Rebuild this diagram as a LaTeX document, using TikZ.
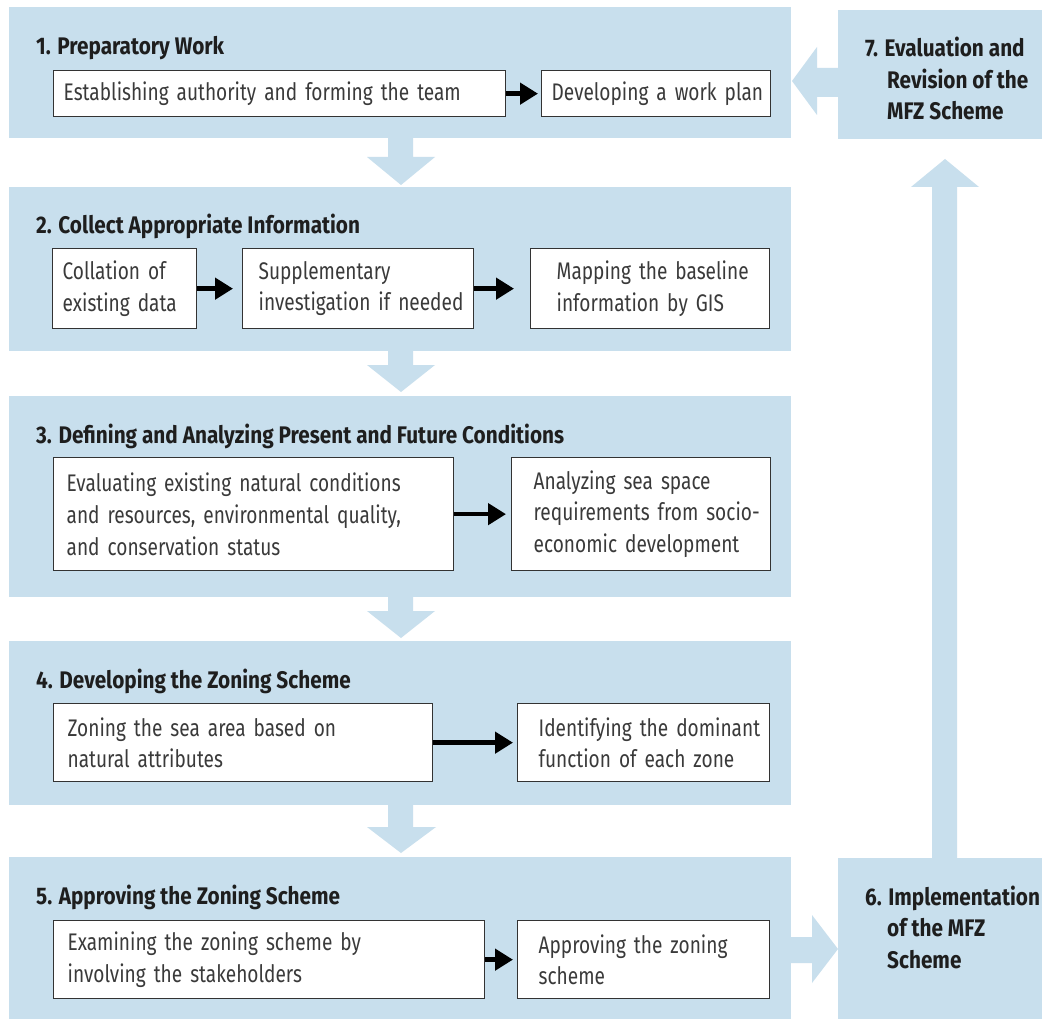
\documentclass[tikz,border=0pt]{standalone}
\usepackage{fontspec}
\setmainfont{Fira Sans}[FakeStretch=0.795, BoldFeatures={FakeStretch=0.865}]
\usetikzlibrary{arrows.meta}
\definecolor{pblue}{HTML}{C8DFED}
\definecolor{bordergray}{HTML}{333333}
\definecolor{bodytext}{HTML}{3A3A3A}
\definecolor{titletext}{HTML}{1E1E1E}
\begin{document}
\begin{tikzpicture}[x=1pt,y=-1pt,
  panel/.style={fill=pblue, draw=none, anchor=north west, inner sep=0pt},
  wbox/.style={draw=bordergray, line width=1.3pt, fill=white, anchor=north west, align=left, inner xsep=0pt, inner ysep=0pt, font=\fontsize{24}{31.7}\selectfont, text=bodytext},
  pad/.style={execute at begin node={\setlength{\leftskip}{#1pt}\relax\hyphenpenalty=10000\relax}},
  ttl/.style={anchor=base west, inner sep=0pt, font=\fontsize{24}{30}\selectfont\bfseries, text=titletext},
  side/.style={anchor=base west, inner sep=0pt, align=left, font=\fontsize{24}{31.5}\selectfont\bfseries, text=titletext},
  flow/.style={line width=4.5pt, -{Triangle[length=18pt,width=21pt]}, black},
  bigarrow/.style={fill=pblue, draw=none}]

\useasboundingbox (0,0) rectangle (1042,1019);
\fill[white] (0,0) rectangle (1042,1019);

% panels
\node[panel, minimum width=782pt, minimum height=131pt] (p1) at (9,7) {};
\node[panel, minimum width=782pt, minimum height=164pt] (p2) at (9,187) {};
\node[panel, minimum width=782pt, minimum height=201pt] (p3) at (9,396) {};
\node[panel, minimum width=782pt, minimum height=164pt] (p4) at (9,641) {};
\node[panel, minimum width=782pt, minimum height=162pt] (p5) at (9,857) {};
\node[panel, minimum width=204pt, minimum height=161pt] (p6) at (838,858) {};
\node[panel, minimum width=204pt, minimum height=129pt] (p7) at (838,10) {};

% big light arrows
\fill[bigarrow] (388,138) -- (413,138) -- (413,157) -- (435,157) -- (401,185) -- (367,157) -- (388,157) -- cycle;
\fill[bigarrow] (388,351) -- (413,351) -- (413,365) -- (435,365) -- (401,392) -- (367,365) -- (388,365) -- cycle;
\fill[bigarrow] (388,597) -- (413,597) -- (413,611) -- (435,611) -- (401,638) -- (367,611) -- (388,611) -- cycle;
\fill[bigarrow] (388,804) -- (413,804) -- (413,827) -- (436,827) -- (401,853) -- (367,827) -- (388,827) -- cycle;
\fill[bigarrow] (791,937) -- (812,937) -- (812,915) -- (838,949) -- (812,983) -- (812,963) -- (791,963) -- cycle;
\fill[bigarrow] (932,858) -- (932,187) -- (911,187) -- (945,159) -- (979,187) -- (957,187) -- (957,858) -- cycle;
\fill[bigarrow] (838,68) -- (817,68) -- (817,47) -- (792,81) -- (817,115) -- (817,97) -- (838,97) -- cycle;

% titles
\node[ttl] (t1) at (36,55) {1. Preparatory Work};
\node[ttl] (t2) at (36,234) {2. Collect Appropriate Information};
\node[ttl] (t3) at (36,443) {3. Defining and Analyzing Present and Future Conditions};
\node[ttl] (t4) at (36,688) {4. Developing the Zoning Scheme};
\node[ttl] (t5) at (36,904) {5. Approving the Zoning Scheme};

% side panels (anchor = baseline of last line)
\node[side] (t7) at (865,120) {7. Evaluation and\\\hspace*{22pt}Revision of the\\\hspace*{22pt}MFZ Scheme};
\node[side] (t6) at (865,968) {6. Implementation\\\hspace*{22pt}of the MFZ\\\hspace*{22pt}Scheme};

% boxes
\node[wbox, pad=9, minimum width=452pt, minimum height=46pt, text width=450pt] (b1a) at (53,70) {Establishing authority and forming the team};
\node[wbox, pad=9, minimum width=229pt, minimum height=46pt, text width=227pt] (b1b) at (541,70) {Developing a work plan};

\node[wbox, pad=9, minimum width=144pt, minimum height=80pt, text width=142pt] (b2a) at (52,248) {Collation of\\existing data};
\node[wbox, pad=15, minimum width=231pt, minimum height=80pt, text width=229pt] (b2b) at (242,248) {Supplementary\\investigation if needed};
\node[wbox, pad=25, minimum width=239pt, minimum height=80pt, text width=237pt] (b2c) at (530,248) {Mapping the baseline\\information by GIS};

\node[wbox, pad=12, minimum width=400pt, minimum height=113pt, text width=398pt] (b3a) at (53,457) {Evaluating existing natural conditions\\and resources, environmental quality,\\and conservation status};
\node[wbox, pad=21, minimum width=259pt, minimum height=113pt, text width=257pt] (b3b) at (511,457) {Analyzing sea space\\requirements from socio-\\economic development};

\node[wbox, pad=13, minimum width=379pt, minimum height=78pt, text width=377pt] (b4a) at (53,703) {Zoning the sea area based on\\natural attributes};
\node[wbox, pad=20, minimum width=252pt, minimum height=78pt, text width=250pt] (b4b) at (517,703) {Identifying the dominant\\function of each zone};

\node[wbox, pad=13, minimum width=431pt, minimum height=78pt, text width=429pt] (b5a) at (53,920) {Examining the zoning scheme by\\involving the stakeholders};
\node[wbox, pad=20, minimum width=252pt, minimum height=78pt, text width=250pt] (b5b) at (517,920) {Approving the zoning\\scheme};

% flow arrows
\draw[flow, shorten >=3pt] (b1a.east) -- (b1b.west);
\draw[flow, shorten >=9pt] (b2a.east) -- (b2b.west);
\draw[flow, shorten >=16pt] (b2b.east) -- (b2c.west);
\draw[flow, shorten >=5pt] (b3a.east) -- (b3b.west);
\draw[flow, shorten >=4pt] (b4a.east) -- (b4b.west);
\draw[flow, shorten >=4pt] (b5a.east) -- (b5b.west);
\end{tikzpicture}
\end{document}
